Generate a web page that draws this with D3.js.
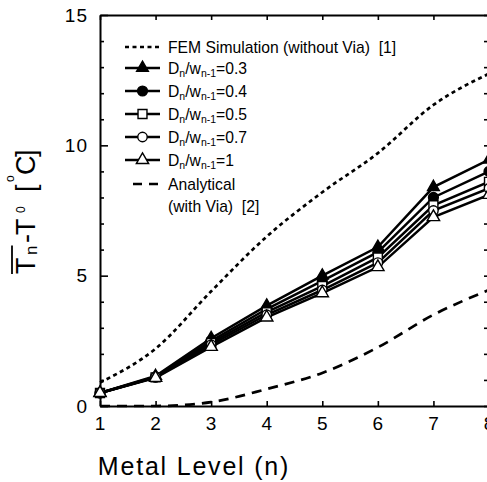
<!DOCTYPE html>
<html>
<head>
<meta charset="utf-8">
<script src="https://cdn.jsdelivr.net/npm/d3@7"></script>
<style>
  html, body { margin: 0; padding: 0; background: #fff; }
  svg { display: block; font-family: Arial, "Liberation Sans", sans-serif; }
  .axis path, .axis line { stroke: #000; }
  .axis path { stroke-width: 2; }
  .axis line { stroke-width: 1.6; }
  .axis text { font-family: Arial, "Liberation Sans", sans-serif; font-size: 19px; letter-spacing: 1px; fill: #000; }
</style>
</head>
<body>
<svg id="chart" width="487" height="482"></svg>
<script>
// Metal levels on the x axis
const levels = [1, 2, 3, 4, 5, 6, 7, 8];

// Average temperature rise per metal level, °C
const femValues        = [0.9, 2.2, 4.4, 6.5, 8.2, 9.7, 11.55, 12.75];
const analyticalValues = [0.0, 0.0, 0.15, 0.65, 1.27, 2.25, 3.5, 4.45];
const ratio03 = [0.5, 1.15, 2.6, 3.85, 5.0, 6.1, 8.4, 9.45];
const ratio04 = [0.5, 1.12, 2.5, 3.72, 4.8, 5.9, 8.0, 9.0];
const ratio05 = [0.5, 1.1, 2.42, 3.6, 4.6, 5.7, 7.7, 8.6];
const ratio07 = [0.5, 1.1, 2.35, 3.5, 4.45, 5.5, 7.5, 8.35];
const ratio10 = [0.5, 1.08, 2.27, 3.4, 4.33, 5.33, 7.25, 8.1];

// Ratio labels (Dn/wn-1) for the legend
const ratioLabels = ["0.3", "0.4", "0.5", "0.7", "1"];

// Y ticks
const yMajorTicks = [0, 5, 10, 15];
const yAllTicks = d3.range(0, 16);

const svg = d3.select("#chart");

const x = d3.scaleLinear().domain([1, 8]).range([100, 489]);
const y = d3.scaleLinear().domain([0, 15]).range([406, 15]);

// ----- Axes (ticks point inward on all four sides) -----
const yMinor = yAllTicks.filter(v => !yMajorTicks.includes(v));

svg.append("g").attr("class", "axis")
  .attr("transform", `translate(0,${y(0)})`)
  .call(d3.axisBottom(x).tickValues(levels).tickSizeInner(-5).tickSizeOuter(0)
    .tickPadding(10.5).tickFormat(d3.format("d")));

svg.append("g").attr("class", "axis")
  .attr("transform", `translate(0,${y(15)})`)
  .call(d3.axisTop(x).tickValues(levels).tickSizeInner(-5).tickSizeOuter(0).tickFormat(""));

svg.append("g").attr("class", "axis")
  .attr("transform", `translate(${x(1)},0)`)
  .call(d3.axisLeft(y).tickValues(yMajorTicks).tickSizeInner(-8).tickSizeOuter(0)
    .tickPadding(12).tickFormat(d3.format("d")));

svg.append("g").attr("class", "axis")
  .attr("transform", `translate(${x(1)},0)`)
  .call(d3.axisLeft(y).tickValues(yMinor).tickSizeInner(-4).tickSizeOuter(0).tickFormat(""))
  .call(g => g.select(".domain").remove());

svg.append("g").attr("class", "axis")
  .attr("transform", `translate(${x(8)},0)`)
  .call(d3.axisRight(y).tickValues(yAllTicks).tickSizeInner(-5).tickSizeOuter(0).tickFormat(""));

// ----- Reference curves -----
const smooth = d3.line().x((d, i) => x(levels[i])).y(d => y(d)).curve(d3.curveMonotoneX);
const straight = d3.line().x((d, i) => x(levels[i])).y(d => y(d));

svg.append("path").datum(femValues)
  .attr("d", smooth).attr("fill", "none").attr("stroke", "#000")
  .attr("stroke-width", 2.7).attr("stroke-dasharray", "4 3.5");

svg.append("path").datum(analyticalValues)
  .attr("d", smooth).attr("fill", "none").attr("stroke", "#000")
  .attr("stroke-width", 2.7).attr("stroke-dasharray", "10 7");

// ----- Ratio series with markers -----
const series = [
  { label: ratioLabels[0], values: ratio03, symbol: d3.symbolTriangle, size: 60, filled: true },
  { label: ratioLabels[1], values: ratio04, symbol: d3.symbolCircle,   size: 76, filled: true },
  { label: ratioLabels[2], values: ratio05, symbol: d3.symbolSquare,   size: 80, filled: false },
  { label: ratioLabels[3], values: ratio07, symbol: d3.symbolCircle,   size: 70, filled: false },
  { label: ratioLabels[4], values: ratio10, symbol: d3.symbolTriangle, size: 66, filled: false }
];

series.forEach(s => {
  svg.append("path").datum(s.values)
    .attr("d", straight).attr("fill", "none").attr("stroke", "#000").attr("stroke-width", 2.5);
});
series.forEach(s => {
  svg.append("g").selectAll("path").data(s.values).join("path")
    .attr("transform", (d, i) => `translate(${x(levels[i])},${y(d)})`)
    .attr("d", d3.symbol().type(s.symbol).size(s.size))
    .attr("fill", s.filled ? "#000" : "#fff")
    .attr("stroke", "#000").attr("stroke-width", 1.4);
});

// ----- Legend -----
const legend = svg.append("g").attr("font-size", "15.7px").attr("fill", "#000");
const lx0 = 125, lx1 = 160, tx = 168;

function legendText(yc) {
  return legend.append("text").attr("x", tx).attr("y", yc + 5.5);
}

// FEM entry
legend.append("line").attr("x1", lx0).attr("x2", lx1).attr("y1", 47).attr("y2", 47)
  .attr("stroke", "#000").attr("stroke-width", 2.5).attr("stroke-dasharray", "4 3.5");
legendText(47).text("FEM Simulation (without Via)  [1]").style("white-space", "pre");

// Ratio entries
const rowY = [68, 91, 114, 137, 160];
series.forEach((s, k) => {
  const yc = rowY[k];
  legend.append("line").attr("x1", lx0).attr("x2", lx1).attr("y1", yc).attr("y2", yc)
    .attr("stroke", "#000").attr("stroke-width", 2.5);
  legend.append("path").attr("transform", `translate(${(lx0 + lx1) / 2},${yc})`)
    .attr("d", d3.symbol().type(s.symbol).size(s.size))
    .attr("fill", s.filled ? "#000" : "#fff").attr("stroke", "#000").attr("stroke-width", 1.4);
  const t = legendText(yc);
  t.append("tspan").text("D");
  t.append("tspan").attr("font-size", "10.5px").attr("dy", 3).text("n");
  t.append("tspan").attr("dy", -3).text("/w");
  t.append("tspan").attr("font-size", "10.5px").attr("dy", 3).text("n-1");
  t.append("tspan").attr("dy", -3).text("=" + s.label);
});

// Analytical entry
legend.append("line").attr("x1", 133).attr("x2", 158).attr("y1", 184).attr("y2", 184)
  .attr("stroke", "#000").attr("stroke-width", 2.5).attr("stroke-dasharray", "9 7");
legendText(184).text("Analytical");
legendText(206).text("(with Via)  [2]").style("white-space", "pre");

// ----- Axis titles -----
svg.append("text")
  .attr("x", 194).attr("y", 475).attr("text-anchor", "middle")
  .attr("font-size", "25px").style("letter-spacing", "1.8px")
  .text("Metal Level (n)");

const yTitle = svg.append("g").attr("transform", "translate(35,282) rotate(-90)");
const yt = yTitle.append("text").attr("font-size", "27px").attr("fill", "#000");
yt.append("tspan").attr("x", 8).attr("y", 0).text("T");
yt.append("tspan").attr("x", 27).attr("y", 2).attr("font-size", "17px").text("n");
yt.append("tspan").attr("x", 39).attr("y", 0).text("-");
yt.append("tspan").attr("x", 47).attr("y", 0).text("T");
yt.append("tspan").attr("x", 69).attr("y", -10).attr("font-size", "12px").text("0");
yt.append("tspan").attr("x", 90).attr("y", 0).text("[");
yt.append("tspan").attr("x", 100).attr("y", -21).attr("font-size", "12px").text("o");
yt.append("tspan").attr("x", 107).attr("y", 0).text("C");
yt.append("tspan").attr("x", 125).attr("y", 0).text("]");

// Bar over T and its subscript
const node = yt.node();
const e0 = node.getExtentOfChar(0), e1 = node.getExtentOfChar(1);
yTitle.append("line")
  .attr("x1", e0.x).attr("x2", e1.x + e1.width)
  .attr("y1", -23).attr("y2", -23)
  .attr("stroke", "#000").attr("stroke-width", 1.8);
</script>
</body>
</html>
